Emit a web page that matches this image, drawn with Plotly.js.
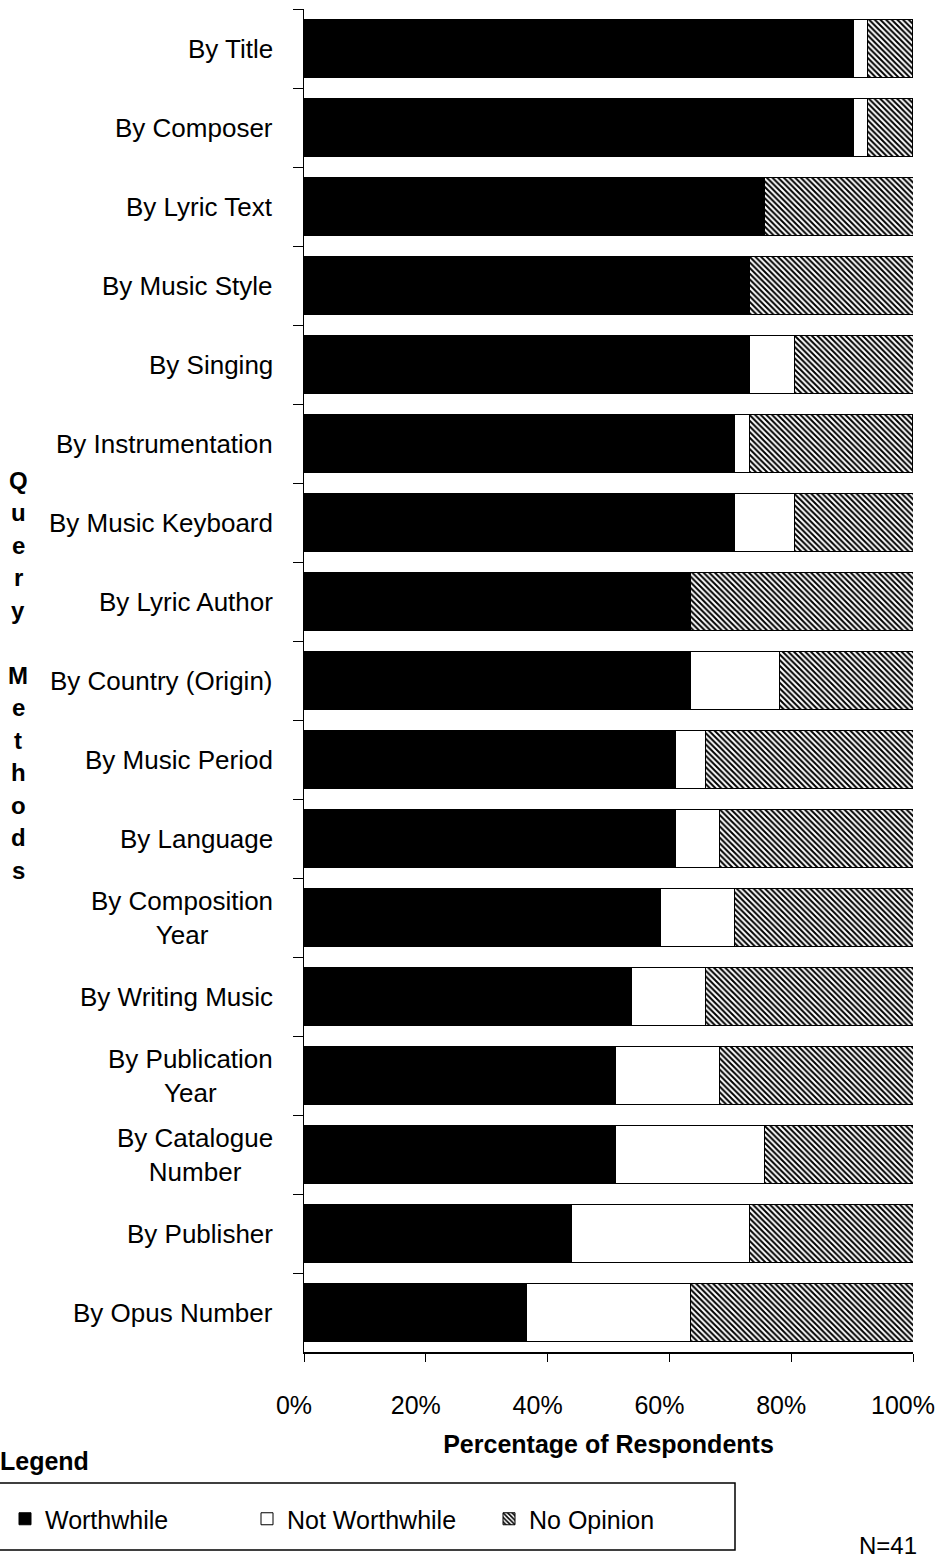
<!DOCTYPE html>
<html>
<head>
<meta charset="utf-8">
<script src="https://cdn.plot.ly/plotly-3.0.1.min.js"></script>
<style>
  html, body { margin: 0; padding: 0; background: #ffffff; }
  #chart { width: 941px; height: 1562px; }
</style>
</head>
<body>
<div id="chart"></div>
<script>
// ---- data (percent of respondents, N=41) ----
const categories = [
  "By Title", "By Composer", "By Lyric Text", "By Music Style", "By Singing",
  "By Instrumentation", "By Music Keyboard", "By Lyric Author", "By Country (Origin)",
  "By Music Period", "By Language", "By Composition<br>Year", "By Writing Music",
  "By Publication<br>Year", "By Catalogue<br>Number", "By Publisher", "By Opus Number"
];
const worthwhile    = [90.2, 90.2, 75.6, 73.2, 73.2, 70.7, 70.7, 63.4, 63.4, 61.0, 61.0, 58.5, 53.7, 51.2, 51.2, 43.9, 36.6];
const notWorthwhile = [2.4, 2.4, 0, 0, 7.3, 2.4, 9.8, 0, 14.6, 4.9, 7.3, 12.2, 12.2, 17.1, 24.4, 29.3, 26.8];
const noOpinion     = [7.3, 7.3, 24.4, 26.8, 19.5, 26.8, 19.5, 36.6, 22.0, 34.1, 31.7, 29.3, 34.1, 31.7, 24.4, 26.8, 36.6];
const seriesNames = ["Worthwhile", "Not Worthwhile", "No Opinion"];
const xTickVals = [0, 20, 40, 60, 80, 100];
const xTickText = ["0%", "20%", "40%", "60%", "80%", "100%"];
const yTitle = "Query Methods";
const xTitle = "Percentage of Respondents";
const legendHeading = "Legend";
const sampleNote = "N=41";

// ---- geometry ----
const W = 941, H = 1562;
const M = { l: 304, r: 28, t: 9, b: 210, autoexpand: false };
const PW = W - M.l - M.r, PH = H - M.t - M.b;
const px = x => (x - M.l) / PW;            // pixel -> paper x
const py = y => (H - M.b - y) / PH;        // pixel -> paper y
const FONT = "Arial, 'Liberation Sans', sans-serif";

const barLine = { color: "#000", width: 1 };
const traces = [
  { name: seriesNames[0], y: categories, x: worthwhile, type: "bar", orientation: "h",
    marker: { color: "#000", line: barLine } },
  { name: seriesNames[1], y: categories, x: notWorthwhile, type: "bar", orientation: "h",
    marker: { color: "#fff", line: barLine } },
  { name: seriesNames[2], y: categories, x: noOpinion, type: "bar", orientation: "h",
    marker: { color: "#fff", line: barLine,
      pattern: { shape: "\\", fgcolor: "#000", bgcolor: "#fff", size: 4, solidity: 0.5 } } }
];

const n = categories.length;
const boundaries = Array.from({ length: n + 1 }, (_, i) => i - 0.5);

const annotations = [];
categories.forEach(c => annotations.push({
  text: c, xref: "paper", yref: "y", x: 0, y: c, xanchor: "right", yanchor: "middle",
  xshift: -29, align: "center", showarrow: false, font: { family: FONT, size: 26, color: "#000" }
}));
// vertical stacked axis title
Array.from(yTitle).forEach((ch, i) => {
  if (ch === " ") return;
  annotations.push({ text: ch, xref: "paper", yref: "paper", x: px(18), y: py(480 + i * 32.5),
    xanchor: "center", yanchor: "middle", showarrow: false,
    font: { family: FONT, size: 24, color: "#000", weight: "bold" } });
});
annotations.push({ text: "<b>" + legendHeading + "</b>", xref: "paper", yref: "paper",
  x: px(-2), y: py(1461), xanchor: "left", yanchor: "middle", showarrow: false,
  font: { family: FONT, size: 25, color: "#000" } });
annotations.push({ text: sampleNote, xref: "paper", yref: "paper",
  x: px(888), y: py(1561), xanchor: "center", yanchor: "bottom", showarrow: false,
  font: { family: FONT, size: 24, color: "#000" } });

const layout = {
  width: W, height: H, margin: M,
  paper_bgcolor: "#fff", plot_bgcolor: "#fff",
  barmode: "stack", bargap: 0.27,
  font: { family: FONT, size: 25, color: "#000" },
  showlegend: true,
  legend: { orientation: "h", x: px(5), y: py(1496), xanchor: "left", yanchor: "top",
    font: { family: FONT, size: 25, color: "#000" }, bgcolor: "rgba(0,0,0,0)",
    entrywidth: 197, entrywidthmode: "pixels", traceorder: "normal" },
  xaxis: { range: [0, 100], tickvals: xTickVals, ticktext: xTickText, ticks: "outside",
    ticklen: 8, tickwidth: 1, tickcolor: "#000", showline: true, linecolor: "#000", linewidth: 1.5,
    showgrid: false, zeroline: false, ticklabelstandoff: 22, ticklabelshift: -10,
    ticklabeloverflow: "allow", automargin: false,
    tickfont: { family: FONT, size: 25, color: "#000" },
    title: { text: "<b>" + xTitle + "</b>", standoff: 18, font: { family: FONT, size: 25, color: "#000" } } },
  xaxis2: { overlaying: "x", anchor: "y", range: [0, 100], tickvals: xTickVals, ticks: "inside",
    ticklen: 7, tickwidth: 1, tickcolor: "#000", showticklabels: false, showline: false,
    showgrid: false, zeroline: false },
  yaxis: { type: "category", categoryarray: categories, categoryorder: "array",
    range: [n - 0.5, -0.5], ticks: "outside", tickson: "boundaries", ticklen: 10,
    tickwidth: 1, tickcolor: "#000", showticklabels: false, showline: true,
    linecolor: "#000", linewidth: 1.5, showgrid: false, zeroline: false },
  yaxis2: { overlaying: "y", anchor: "x", type: "linear", range: [n - 0.5, -0.5],
    tickvals: boundaries, ticks: "inside", ticklen: 7, tickwidth: 1, tickcolor: "#000",
    showticklabels: false, showline: false, showgrid: false, zeroline: false },
  annotations: annotations,
  shapes: [
    { type: "rect", xref: "paper", yref: "paper", x0: px(-4), x1: px(735), y0: py(1483), y1: py(1550),
      line: { color: "#000", width: 1.5 }, fillcolor: "rgba(0,0,0,0)" }
  ]
};

Plotly.newPlot("chart", traces, layout, { staticPlot: true, displayModeBar: false });
</script>
</body>
</html>
